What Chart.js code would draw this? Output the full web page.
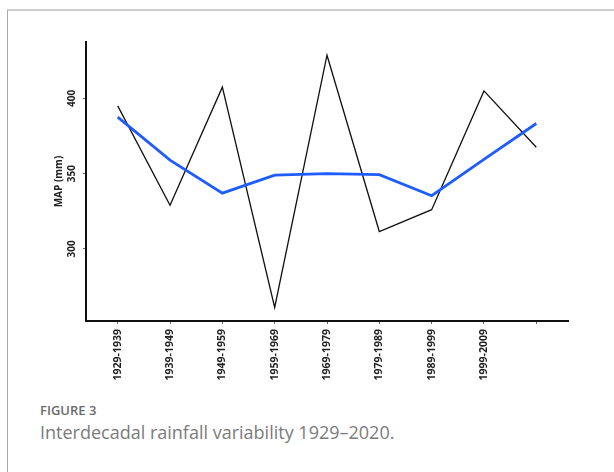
<!DOCTYPE html>
<html>
<head>
<meta charset="utf-8">
<script src="https://cdn.jsdelivr.net/npm/chart.js@4/dist/chart.umd.min.js"></script>
<style>
  html, body { margin: 0; padding: 0; background: #fff; }
  #frame {
    position: absolute; left: 7px; top: 9px; width: 607px; height: 463px;
    border-top: 2px solid #cfcfcf; border-left: 1px solid #a9a9a9; box-sizing: border-box;
  }
  #wrap { position: absolute; left: 0; top: 0; width: 614px; height: 400px; }
  .cap { position: absolute; left: 40px; font-family: "Open Sans", sans-serif; white-space: nowrap; }
  #fig { top: 401px; font-size: 13px; font-weight: 600; color: #6a6a6a; }
  #desc { top: 420px; font-size: 18px; font-weight: 400; color: #7b7b7b; }
</style>
</head>
<body>
<div id="frame"></div>
<div id="wrap"><canvas id="chart" width="614" height="400"></canvas></div>
<div class="cap" id="fig">FIGURE 3</div>
<div class="cap" id="desc">Interdecadal rainfall variability 1929–2020.</div>
<script>
// Decade periods (the last one carries no printed label)
const periods = ['1929-1939', '1939-1949', '1949-1959', '1959-1969', '1969-1979',
                 '1979-1989', '1989-1999', '1999-2009', ''];
// Mean annual precipitation per period (mm)
const rainfall = [395, 329, 407.5, 261, 428.7, 311.5, 326, 405, 367.5];
// Smoothed trend of the same series (mm)
const trend = [387.5, 359, 337, 349, 350, 349.3, 335.3, 359.5, 383.3];
// Printed y-axis ticks
const yTicks = [300, 350, 400];

const toPoints = arr => arr.map((v, i) => ({ x: i, y: v }));
const tickFont = { family: '"Open Sans", sans-serif', weight: 'bold' };

new Chart(document.getElementById('chart'), {
  type: 'line',
  data: {
    datasets: [
      { data: toPoints(trend), borderColor: '#1f5cff', borderWidth: 2.8,
        pointRadius: 0, tension: 0, fill: false },
      { data: toPoints(rainfall), borderColor: '#111', borderWidth: 1.3,
        pointRadius: 0, tension: 0, fill: false }
    ]
  },
  options: {
    responsive: false,
    animation: false,
    layout: { padding: { left: 46, top: 42, right: 46, bottom: 14 } },
    plugins: { legend: { display: false }, tooltip: { enabled: false } },
    scales: {
      x: {
        type: 'linear',
        min: -0.606, max: 8.606,
        afterBuildTicks: s => { s.ticks = periods.map((_, i) => ({ value: i })); },
        afterFit: s => { s.height = 65; },
        border: { color: '#111', width: 2 },
        grid: { drawOnChartArea: false, drawTicks: true, tickLength: 3, tickColor: '#666' },
        ticks: {
          callback: v => periods[v],
          autoSkip: false, minRotation: 90, maxRotation: 90,
          padding: 5, color: '#222',
          font: { ...tickFont, size: 10.5 }
        }
      },
      y: {
        min: 252, max: 437.5,
        afterBuildTicks: s => { s.ticks = yTicks.map(v => ({ value: v })); },
        afterFit: s => { s.width = 40; },
        border: { color: '#111', width: 2 },
        grid: { drawOnChartArea: false, drawTicks: true, tickLength: 3, tickColor: '#666' },
        ticks: {
          minRotation: 90, maxRotation: 90, crossAlign: 'center',
          padding: 2, color: '#222',
          font: { ...tickFont, size: 10 }
        },
        title: {
          display: true, text: 'MAP (mm)', color: '#222',
          font: { ...tickFont, size: 10 },
          padding: { top: 7, bottom: 0 }
        }
      }
    }
  }
});
</script>
</body>
</html>
